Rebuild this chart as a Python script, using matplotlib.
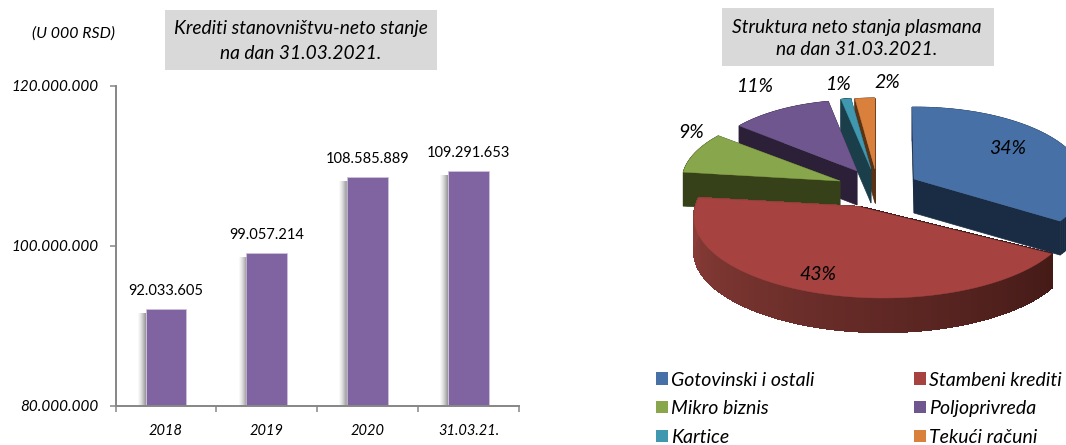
import numpy as np
import matplotlib
matplotlib.use("Agg")
import matplotlib.pyplot as plt
from matplotlib.patches import Patch, Rectangle
from matplotlib.colors import to_rgb

FONT = ["Lato", "Open Sans", "DejaVu Sans"]
plt.rcParams["font.family"] = FONT

# ---------- data ----------
bar_categories = ["2018", "2019", "2020", "31.03.21."]
bar_values = [92033605, 99057214, 108585889, 109291653]
y_ticks = [80000000, 100000000, 120000000]

pie_labels = ["Gotovinski i ostali", "Stambeni krediti", "Mikro biznis",
              "Poljoprivreda", "Kartice", "Tekući računi"]
pie_shares = [34, 43, 9, 11, 1, 2]

title_left = "Krediti stanovništvu-neto stanje\nna dan 31.03.2021."
title_right = "Struktura neto stanja plasmana\nna dan 31.03.2021."
unit_text = "(U 000 RSD)"

# ---------- styles ----------
W, H = 1066, 445
BAR = "#8064a2"
AXC = "#868686"
top_cols = ["#4670a6", "#a64341", "#88a64b", "#70568e", "#3f97b0", "#d9813c"]
side_cols = ["#1a2c44", "#8f3f3a", "#374119", "#2b2038", "#1a3f4b", "#5a3214"]
RED_DARK = "#431a17"
# pixel-space layout of each exploded slice: apex, rim centre, rim radii, angle shift, stretch
apex = [(914, 179), (860, 207), (840, 181), (857, 171), (871, 169), (875, 169)]
rim_c = [(915, 182), (883, 217), (840, 181), (857, 171), (871, 169), (875, 169)]
rim_r = [(170, 75), (189, 81), (158, 71), (153, 71), (160, 71), (160, 71)]
ang_shift = [-1, -5.4, 0, 0, 0, 0]
ang_stretch = [1, 1.076, 1, 1, 1, 1]
DEPTH = 34
pct_pos = [(1008, 148), (818, 275), (691, 133), (755, 87), (838, 84), (887, 82)]

fig = plt.figure(figsize=(W / 100, H / 100), dpi=100)


def rect(l, t, r, b):
    return [l / W, 1 - b / H, (r - l) / W, (b - t) / H]


# ---------- overlay for boxes and texts ----------
ov = fig.add_axes([0, 0, 1, 1], zorder=0)
ov.set_xlim(0, W)
ov.set_ylim(H, 0)
ov.axis("off")

# ---------- bar chart ----------
ax = fig.add_axes(rect(115.5, 85.5, 519, 405.7), zorder=1)
ax.patch.set_alpha(0)
x = np.arange(len(bar_values))
shadow_heights = np.array(bar_values) - 500000
for off, al in [(0.08, 0.04), (0.07, 0.05), (0.06, 0.06), (0.05, 0.08),
                (0.04, 0.10), (0.03, 0.13), (0.02, 0.15), (0.01, 0.18)]:
    ax.bar(x - 0.2 - off / 2, shadow_heights, width=off, color="#555555", alpha=al, linewidth=0)
ax.bar(x, bar_values, width=0.405, color=BAR, edgecolor="#cfc5dd", linewidth=0.5)
ax.set_xlim(-0.5, len(bar_values) - 0.5)
ax.set_ylim(y_ticks[0], y_ticks[-1])
ax.set_yticks(y_ticks)
ax.set_yticklabels([f"{v:,}".replace(",", ".") for v in y_ticks], fontstyle="italic", fontsize=11)
ax.set_xticks(np.arange(len(bar_values) + 1) - 0.5)
ax.set_xticklabels([])
ax.set_xticks(x, minor=True)
ax.set_xticklabels(bar_categories, minor=True, fontstyle="italic", fontsize=10.5)
ax.tick_params(axis="x", which="major", length=4.5, width=1.1, color=AXC)
ax.tick_params(axis="x", which="minor", length=0, pad=13)
ax.tick_params(axis="y", length=4, width=1.1, color=AXC, pad=8)
for s in ("top", "right"):
    ax.spines[s].set_visible(False)
for s in ("left", "bottom"):
    ax.spines[s].set_color(AXC)
    ax.spines[s].set_linewidth(1.4)
for xi, v in zip(x, bar_values):
    ax.annotate(f"{v:,}".replace(",", "."), (xi, v), xytext=(0, 8), textcoords="offset points",
                ha="center", va="bottom", fontsize=10.5, color="black")

# ---------- titles ----------
ov.add_patch(Rectangle((165, 10), 272, 60, color="#d9d9d9", lw=0))
ov.text(301, 41, title_left, ha="center", va="center", fontstyle="italic", fontsize=13.8, linespacing=1.6)
ov.add_patch(Rectangle((722, 8), 272, 58, color="#d9d9d9", lw=0))
ov.text(857, 38.5, title_right, ha="center", va="center", fontstyle="italic", fontsize=13.8, linespacing=1.4)
ov.text(32, 34, unit_text, ha="left", va="center", fontstyle="italic", fontsize=11.4)

# ---------- 3D exploded pie ----------
pa = fig.add_axes([0, 0, 1, 1], zorder=2)
pa.set_xlim(0, W)
pa.set_ylim(H, 0)
pa.axis("off")
edges = np.concatenate([[0], np.cumsum(pie_shares)]) * 360.0 / sum(pie_shares)


def blend(a, b, t):
    a, b = np.array(to_rgb(a)), np.array(to_rgb(b))
    return tuple(a + (b - a) * t)


def draw_slice(i, z):
    start, end = edges[i], edges[i + 1]
    th = np.radians(start + ang_shift[i] + np.linspace(0, end - start, 90) * ang_stretch[i])
    rx = rim_c[i][0] + rim_r[i][0] * np.sin(th)
    ry = rim_c[i][1] - rim_r[i][1] * np.cos(th)
    px = np.concatenate([[apex[i][0]], rx])
    py = np.concatenate([[apex[i][1]], ry])
    n = len(px)
    for k in range(n):
        j = (k + 1) % n
        if i == 1:
            c = blend(RED_DARK, side_cols[1], min(k / (n - 1), 1))
            pa.fill([px[k], px[j], px[j], px[k]],
                    [py[k], py[j], py[j] + DEPTH, py[k] + DEPTH],
                    facecolor=c, edgecolor=c, linewidth=1.0, antialiased=False, zorder=z)
        else:
            c = side_cols[i]
            pa.fill([px[k], px[j], px[j], px[k]],
                    [py[k], py[j], py[j] + DEPTH, py[k] + DEPTH],
                    facecolor=c, edgecolor=c, linewidth=0.5, zorder=z)
    pa.fill(px, py, facecolor=top_cols[i], edgecolor=top_cols[i], linewidth=0.3, zorder=z + 0.5)


for z, i in enumerate([5, 4, 3, 2, 1, 0]):
    draw_slice(i, z + 1)

for (tx, ty), v in zip(pct_pos, pie_shares):
    pa.text(tx, ty, f"{v}%", ha="center", va="center", fontstyle="italic", fontsize=14, zorder=20)

# ---------- legend ----------
handles = [Patch(facecolor=c, edgecolor="none") for c in top_cols]
order = [0, 2, 4, 1, 3, 5]
leg = pa.legend([handles[k] for k in order], [pie_labels[k] for k in order], ncols=2,
                loc="upper left", bbox_to_anchor=(656 / W, 1 - 371.5 / H), bbox_transform=fig.transFigure,
                frameon=False, handlelength=0.6, handleheight=0.6, handletextpad=0.16,
                labelspacing=0.6, columnspacing=5.14, borderpad=0, borderaxespad=0,
                prop={"style": "italic", "size": 14})

fig.savefig("out.png", dpi=100)
